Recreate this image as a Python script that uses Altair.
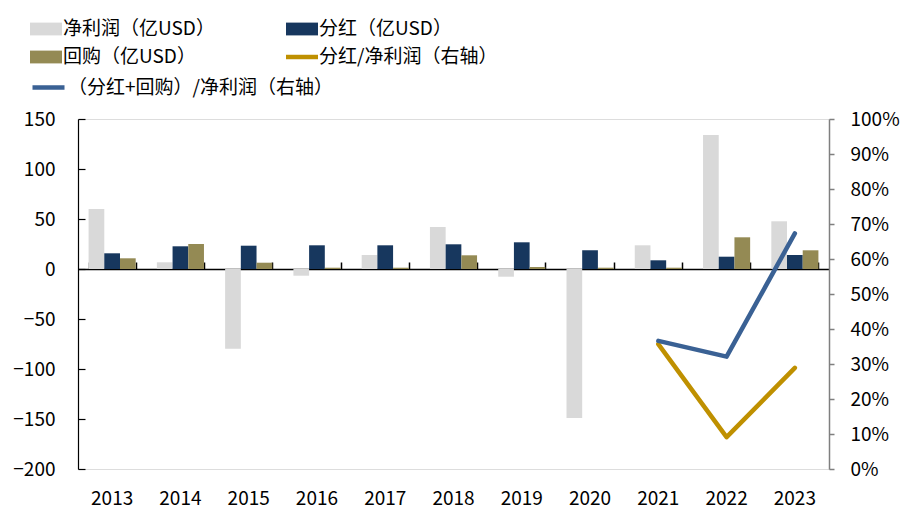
import altair as alt
import pandas as pd

FONT = "Noto Sans CJK SC"

years = ["2013", "2014", "2015", "2016", "2017", "2018", "2019", "2020", "2021", "2022", "2023"]
net_profit = [60, 6.7, -79.7, -6.7, 14, 42, -7.7, -149, 23.7, 134, 47.7]
dividend = [15.7, 22.7, 23.3, 23.7, 23.7, 24.7, 26.7, 18.7, 8.7, 12.3, 14]
buyback = [10.7, 25, 6.3, 1.3, 1.3, 13.7, 2, 1.3, 1.3, 31.7, 18.7]

ratio_years = ["2021", "2022", "2023"]
div_ratio = [0.357, 0.091, 0.289]
total_ratio = [0.366, 0.321, 0.673]

NET = "净利润（亿USD）"
DIV = "分红（亿USD）"
BUY = "回购（亿USD）"
R1 = "分红/净利润（右轴）"
R2 = "（分红+回购）/净利润（右轴）"

bar_names = [NET, DIV, BUY]
# legend fills column by column: this order gives rows (NET, DIV), (BUY, R1)
color_names = [NET, BUY, DIV, R1]
color_range = ["#d9d9d9", "#948a54", "#17375e", "#bf9000"]
blue = "#3a6194"

rows = []
for i, y in enumerate(years):
    rows.append({"year": y, "series": NET, "value": net_profit[i]})
    rows.append({"year": y, "series": DIV, "value": dividend[i]})
    rows.append({"year": y, "series": BUY, "value": buyback[i]})
bar_df = pd.DataFrame(rows)
r1_df = pd.DataFrame({"year": ratio_years, "series": R1, "value": div_ratio})
r2_df = pd.DataFrame({"year": ratio_years, "series": R2, "value": total_ratio})

color_scale = alt.Scale(domain=color_names, range=color_range)

RECT = "M-1,-0.4H1V0.4H-1Z"
THIN = "M-1,-0.14H1V0.14H-1Z"
legendA = alt.Legend(
    orient="none", legendX=-48, legendY=-106, columns=2, columnPadding=71, rowPadding=2,
    symbolSize=1024, labelFont=FONT, labelFontSize=19, labelColor="#000000",
    labelOffset=1, padding=0, title=None, labelLimit=500,
    symbolType={"expr": f"datum.value === '{R1}' ? '{THIN}' : '{RECT}'"},
    symbolStrokeWidth=0, symbolOpacity=1,
)
legendB = alt.Legend(
    orient="none", legendX=-48, legendY=-50, symbolSize=1024, labelFont=FONT,
    labelFontSize=19, labelColor="#000000", labelOffset=1, padding=0, title=None,
    labelLimit=500, symbolType="M-1,0H1", symbolStrokeWidth=4.5, symbolOpacity=1,
)

x_top = alt.Axis(orient="top", offset=-150, labels=False, title=None, domainColor="#000000",
                 domainWidth=1.5, tickColor="#000000", tickSize=7, tickWidth=1.5,
                 tickBand="extent", grid=False)
x_bottom = alt.Axis(orient="bottom", domain=False, ticks=False, labelPadding=20, labelAngle=0,
                    title=None, grid=False, labelFont=FONT, labelFontSize=19, labelColor="#000000")
left_vals = [-200, -150, -100, -50, 0, 50, 100, 150]
y_left = alt.Axis(orient="left", values=left_vals, title=None, domainColor="#000000",
                  domainWidth=1.2, ticks=False, labelPadding=23, grid=False, labelFont=FONT,
                  labelFontSize=19, labelColor="#000000")
y_left_ticks = alt.Axis(orient="right", offset=-751, values=left_vals, title=None, domain=False,
                        labels=False, tickColor="#000000", tickSize=7, tickWidth=1.2, grid=False)
y_right = alt.Axis(orient="right", values=[i / 10 for i in range(11)], format=".0%", title=None,
                   domainColor="#7f7f7f", domainWidth=1.5, tickColor="#7f7f7f", tickSize=5,
                   tickWidth=1.5, labelPadding=16, grid=False, labelFont=FONT, labelFontSize=19,
                   labelColor="#000000")

bars = alt.Chart(bar_df).mark_bar().encode(
    x=alt.X("year:N", scale=alt.Scale(domain=years, paddingInner=0.31, paddingOuter=0.155), axis=x_top),
    xOffset=alt.XOffset("series:N", scale=alt.Scale(domain=bar_names, paddingInner=0, paddingOuter=0)),
    y=alt.Y("value:Q", scale=alt.Scale(domain=[-200, 150], nice=False, zero=False), axis=y_left),
    color=alt.Color("series:N", scale=color_scale, legend=legendA),
)
tick_layer = alt.Chart(bar_df).mark_point(opacity=0).encode(
    y=alt.Y("value:Q", axis=y_left_ticks),
)
left = alt.layer(bars, tick_layer)

line1 = alt.Chart(r1_df).mark_line(strokeWidth=4.5, strokeCap="round", strokeJoin="round").encode(
    x=alt.X("year:N", axis=x_bottom),
    y=alt.Y("value:Q", scale=alt.Scale(domain=[0, 1], nice=False), axis=y_right),
    color=alt.Color("series:N", scale=color_scale, legend=legendA),
)
line2 = alt.Chart(r2_df).mark_line(strokeWidth=4.5, strokeCap="round", strokeJoin="round").encode(
    x=alt.X("year:N", axis=x_bottom),
    y=alt.Y("value:Q", scale=alt.Scale(domain=[0, 1], nice=False), axis=y_right),
    stroke=alt.Stroke("series:N", scale=alt.Scale(domain=[R2], range=[blue]), legend=legendB),
)
right = alt.layer(line1, line2)

chart = alt.layer(left, right).resolve_scale(y="independent").properties(
    width=751, height=350,
    autosize=alt.AutoSizeParams(type="none"),
    padding={"left": 70, "top": 111, "right": 72, "bottom": 40},
).configure_view(stroke=None).configure(font=FONT, background="#ffffff")

chart.save("out.html", embed_options={"renderer": "svg", "actions": False})
